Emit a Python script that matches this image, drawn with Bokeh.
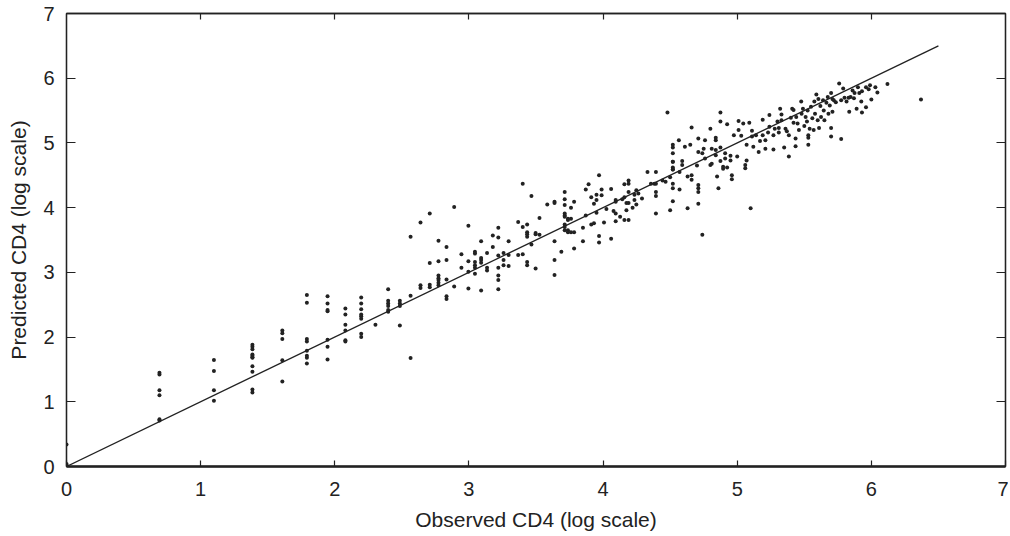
from bokeh.plotting import figure
from bokeh.models import LinearAxis, FixedTicker, Range1d
from bokeh.embed import file_html
from bokeh.resources import INLINE

# Observed (x) and predicted (y) log CD4
obs = (
    [0.0] * 4
    + [0.693] * 6
    + [1.099] * 4
    + [1.386] * 11
    + [1.609] * 5
    + [1.792] * 8
    + [1.946] * 7
    + [2.079] * 6
    + [2.197] * 8
    + [2.303]
    + [2.398] * 6
    + [2.485] * 4
    + [2.565] * 3
    + [2.639] * 3
    + [2.708] * 4
    + [2.773] * 7
    + [2.833] * 5
    + [2.890] * 2
    + [2.944] * 2
    + [2.996] * 4
    + [3.045] * 6
    + [3.091] * 5
    + [3.135] * 3
    + [3.178] * 2
    + [3.219] * 7
    + [3.258] * 3
    + [3.296] * 3
    + [3.367] * 2
    + [3.401] * 3
    + [3.434] * 6
    + [3.466] * 2
    + [3.497] * 3
    + [3.526] * 2
    + [3.584]
    + [3.638] * 5
    + [3.689]
    + [3.714] * 9
    + [3.738] * 4
    + [3.761] * 3
    + [3.784] * 3
    + [3.850] * 2
    + [3.871] * 2
    + [3.892]
    + [3.912] * 2
    + [3.932] * 2
    + [3.951] * 3
    + [3.970] * 3
    + [3.989] * 2
    + [4.007, 4.025]
    + [4.060] * 2
    + [4.078]
    + [4.094] * 4
    + [4.127, 4.143]
    + [4.159] * 3
    + [4.174] * 2
    + [4.190] * 5
    + [4.220]
    + [4.234] * 2
    + [4.248] * 2
    + [4.263, 4.290, 4.331, 4.357, 4.382]
    + [4.394] * 5
    + [4.443, 4.466]
    + [4.480]
    + [4.500] * 2
    + [4.520] * 11
    + [4.565, 4.570, 4.570]
    + [4.590] * 2
    + [4.610]
    + [4.630] * 2
    + [4.650]
    + [4.660] * 3
    + [4.700]
    + [4.710] * 6
    + [4.740] * 2
    + [4.750]
    + [4.760] * 2
    + [4.800] * 2
    + [4.810] * 2
    + [4.840] * 4
    + [4.850, 4.860]
    + [4.875] * 4
    + [4.895] * 2
    + [4.910] * 2
    + [4.925] * 2
    + [4.950] * 2
    + [4.960] * 2
    + [4.975, 5.000]
    + [5.010] * 2
    + [5.030, 5.045]
    + [5.060] * 2
    + [5.070] * 2
    + [5.090, 5.100]
    + [5.110] * 2
    + [5.120, 5.140, 5.160, 5.170]
    + [5.190] * 2
    + [5.210] * 2
    + [5.230]
    + [5.240] * 2
    + [5.270] * 2
    + [5.280, 5.300]
    + [5.310] * 2
    + [5.320]
    + [5.330] * 2
    + [5.350, 5.360, 5.370]
    + [5.385] * 2
    + [5.400, 5.410]
    + [5.420] * 2
    + [5.435] * 2
    + [5.440, 5.450, 5.460, 5.477, 5.480, 5.490, 5.500, 5.510, 5.520, 5.525]
    + [5.530] * 3
    + [5.540, 5.550, 5.560, 5.570, 5.575, 5.580, 5.590, 5.600, 5.605, 5.610,
       5.620, 5.625, 5.640, 5.645, 5.650, 5.665, 5.675, 5.680, 5.690]
    + [5.700] * 3
    + [5.710] * 2
    + [5.720, 5.735, 5.760]
    + [5.775] * 2
    + [5.790, 5.800, 5.815, 5.830, 5.835, 5.845, 5.860, 5.870, 5.875, 5.890,
       5.900, 5.910, 5.925]
    + [5.930] * 2
    + [5.960] * 2
    + [5.980, 5.990, 6.000, 6.030, 6.045, 6.120, 6.370]
)

pred = (
    [0.34, 0.04, 0.0, 0.02]
    + [1.45, 1.42, 1.18, 1.10, 0.73, 0.71]
    + [1.645, 1.475, 1.18, 1.015]
    + [1.88, 1.85, 1.81, 1.73, 1.71, 1.69, 1.68, 1.55, 1.465, 1.19, 1.145]
    + [2.10, 2.06, 1.97, 1.64, 1.315]
    + [2.65, 2.53, 1.97, 1.93, 1.79, 1.71, 1.68, 1.59]
    + [2.63, 2.52, 2.42, 2.40, 1.96, 1.85, 1.655]
    + [2.44, 2.35, 2.19, 2.10, 1.95, 1.93]
    + [2.61, 2.52, 2.43, 2.35, 2.32, 2.285, 2.05, 2.00]
    + [2.19]
    + [2.74, 2.56, 2.52, 2.48, 2.42, 2.39]
    + [2.56, 2.52, 2.48, 2.18]
    + [3.55, 2.64, 1.675]
    + [3.77, 2.80, 2.76]
    + [3.91, 3.145, 2.81, 2.77]
    + [3.49, 3.17, 2.95, 2.91, 2.88, 2.84, 2.80]
    + [3.39, 3.19, 2.89, 2.63, 2.59]
    + [4.01, 2.78]
    + [3.28, 3.07]
    + [3.72, 3.17, 3.01, 2.75]
    + [3.32, 3.29, 3.16, 3.11, 3.07, 2.98]
    + [3.48, 3.22, 3.19, 3.15, 2.72]
    + [3.30, 3.07, 3.03]
    + [3.57, 3.39]
    + [3.69, 3.54, 3.26, 3.07, 2.95, 2.88, 2.74]
    + [3.30, 3.19, 3.11]
    + [3.48, 3.27, 3.10]
    + [3.78, 3.27]
    + [4.37, 3.70, 3.28]
    + [3.74, 3.62, 3.59, 3.55, 3.16, 3.11]
    + [4.18, 3.43]
    + [3.61, 3.59, 3.06]
    + [3.84, 3.58]
    + [4.05]
    + [4.09, 4.07, 3.48, 3.19, 2.96]
    + [3.32]
    + [4.24, 4.13, 4.04, 3.91, 3.88, 3.86, 3.74, 3.70, 3.65]
    + [3.83, 3.81, 3.65, 3.62]
    + [4.00, 3.83, 3.62]
    + [4.09, 3.62, 3.37]
    + [3.69, 3.48]
    + [3.88, 4.28]
    + [4.36]
    + [4.16, 3.74]
    + [4.06, 3.76]
    + [4.20, 4.12, 3.92]
    + [4.50, 3.56, 3.46]
    + [4.28, 4.19]
    + [3.77, 3.98]
    + [4.29, 3.52]
    + [3.95]
    + [4.12, 4.09, 3.91, 3.79]
    + [3.86, 4.13]
    + [4.36, 4.16, 3.81]
    + [4.07, 3.96]
    + [4.42, 4.37, 4.24, 4.07, 3.81]
    + [4.00]
    + [4.20, 4.12]
    + [4.27, 4.05]
    + [4.22, 4.14, 4.55, 4.37, 4.37]
    + [4.55, 4.37, 4.24, 4.18, 3.91]
    + [4.42, 4.40]
    + [5.47]
    + [4.47, 3.96]
    + [4.97, 4.93, 4.84, 4.71, 4.71, 4.62, 4.59, 4.59, 4.37, 4.30, 4.10]
    + [5.04, 4.28, 4.55]
    + [4.72, 4.66]
    + [4.94]
    + [4.48, 3.99]
    + [4.97]
    + [5.24, 4.50, 4.43]
    + [4.65]
    + [5.07, 4.86, 4.35, 4.30, 4.24, 4.06]
    + [3.58, 4.84]
    + [4.91]
    + [5.04, 4.76]
    + [5.22, 4.66]
    + [4.91, 4.68]
    + [5.08, 5.04, 4.89, 4.81]
    + [4.48, 4.30]
    + [5.47, 5.33, 4.93, 4.72]
    + [4.63, 4.60]
    + [4.84, 4.76]
    + [5.29, 4.62]
    + [4.73, 4.80]
    + [4.50, 4.44]
    + [5.12, 4.79]
    + [5.34, 5.20]
    + [5.11, 5.30]
    + [4.61, 4.66]
    + [4.97, 4.73]
    + [5.31, 3.99]
    + [5.19, 5.10]
    + [4.94, 5.12, 4.86, 5.03]
    + [5.36, 5.12]
    + [5.04, 4.91]
    + [5.16]
    + [5.43, 5.25]
    + [5.12, 4.90]
    + [5.22, 5.33]
    + [5.16, 5.23]
    + [5.53]
    + [5.35, 5.44]
    + [4.93, 5.22, 5.18]
    + [5.12, 4.79]
    + [5.39, 5.53]
    + [5.31, 5.51]
    + [5.07, 4.95]
    + [5.40, 5.30, 5.20, 5.64, 5.45, 5.53, 5.26, 5.40, 5.33, 5.50]
    + [5.12, 4.97, 5.08]
    + [5.22, 5.56, 5.38, 5.20, 5.64, 5.45, 5.75, 5.35, 5.68, 5.23,
       5.57, 5.40, 5.66, 5.50, 5.35, 5.62, 5.71, 5.45, 5.58]
    + [5.77, 5.23, 5.10]
    + [5.48, 5.68]
    + [5.66, 5.63, 5.92]
    + [5.66, 5.06]
    + [5.84, 5.70, 5.64, 5.70, 5.48, 5.71, 5.81, 5.69, 5.77, 5.53,
       5.86, 5.77, 5.64]
    + [5.80, 5.47]
    + [5.86, 5.55]
    + [5.83, 5.89, 5.67, 5.86, 5.78, 5.91, 5.67]
)

# identity reference line
line_x = [0.0, 6.5]
line_y = [0.0, 6.5]

x_ticks = [0, 1, 2, 3, 4, 5, 6, 7]
y_ticks = [0, 1, 2, 3, 4, 5, 6, 7]

INK = "#222222"
FONT = "Liberation Sans"

p = figure(
    width=1008, height=534,
    x_range=Range1d(0, 7), y_range=Range1d(0, 7),
    output_backend="svg", toolbar_location=None,
    min_border_left=66, min_border_right=3,
    min_border_top=13, min_border_bottom=68,
    x_axis_label="Observed CD4 (log scale)",
    y_axis_label="Predicted CD4 (log scale)",
)
p.xgrid.visible = False
p.ygrid.visible = False
p.outline_line_color = INK
p.outline_line_width = 1.3
p.background_fill_color = "white"
p.border_fill_color = "white"

for ax in (p.xaxis[0], p.yaxis[0]):
    ax.axis_line_color = INK
    ax.major_tick_line_color = INK
    ax.major_tick_line_width = 1.2
    ax.major_tick_out = 0
    ax.minor_tick_line_color = None
    ax.major_label_text_font = FONT
    ax.major_label_text_font_size = "20px"
    ax.major_label_text_color = INK
    ax.axis_label_text_font = FONT
    ax.axis_label_text_font_size = "21px"
    ax.axis_label_text_font_style = "normal"
    ax.axis_label_text_color = INK

p.xaxis[0].ticker = FixedTicker(ticks=x_ticks)
p.yaxis[0].ticker = FixedTicker(ticks=y_ticks)
p.xaxis[0].major_tick_in = 6
p.yaxis[0].major_tick_in = 9
p.xaxis[0].axis_line_width = 2.6
p.yaxis[0].axis_line_width = 1.3
p.xaxis[0].major_label_standoff = 15
p.xaxis[0].axis_label_standoff = 9
p.yaxis[0].major_label_standoff = 12
p.yaxis[0].axis_label_standoff = 10

top = LinearAxis(ticker=FixedTicker(ticks=x_ticks[1:-1]))
right = LinearAxis(ticker=FixedTicker(ticks=y_ticks[1:-1]))
for ax, tin in ((top, 6), (right, 9)):
    ax.axis_line_color = INK
    ax.axis_line_width = 1.3
    ax.major_tick_line_color = INK
    ax.major_tick_line_width = 1.2
    ax.major_tick_in = tin
    ax.major_tick_out = 0
    ax.minor_tick_line_color = None
    ax.major_label_text_font_size = "1px"
    ax.major_label_text_color = None
    ax.major_label_standoff = 0
p.add_layout(top, "above")
p.add_layout(right, "right")

p.line(line_x, line_y, line_color=INK, line_width=1.3)
p.scatter(obs, pred, size=4, marker="circle", fill_color=INK, line_color=None)

open("out.html", "w").write(file_html(p, INLINE))
